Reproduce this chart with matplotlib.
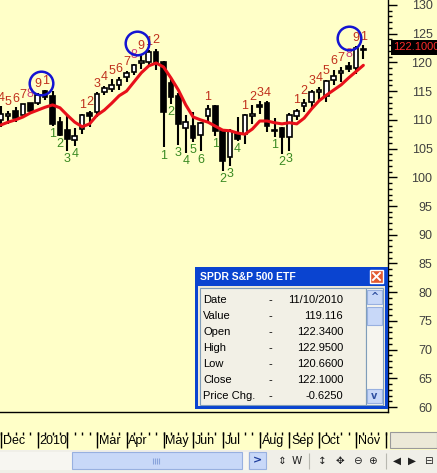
import numpy as np
import matplotlib
matplotlib.use('Agg')
import matplotlib.pyplot as plt
from matplotlib.patches import Rectangle
from matplotlib.ticker import MultipleLocator

W, H = 437, 473
BG = '#ffffc8'
FONT = 'Liberation Sans'

# weekly SPY bars (week ending Fri), Dec 4 2009 .. Nov 12 2010
opens = [109.9, 110.6, 111.5, 110.9, 112.9, 113.0, 115.0, 114.2, 109.6, 108.2,
         106.5, 108.4, 111.2, 111.3, 114.9, 115.4, 116.0, 117.4, 118.3, 119.9,
         120.0, 121.8, 120.0, 116.5, 114.2, 108.6, 108.9, 107.4, 110.6, 112.4,
         108.0, 103.6, 107.6, 107.6, 110.7, 112.6, 113.0, 108.3, 108.5, 107.0,
         110.6, 112.4, 113.1, 114.9, 114.2, 117.0, 118.1, 119.4, 119.0, 122.34]
highs = [112.4, 111.6, 112.2, 112.8, 113.0, 114.7, 115.2, 115.1, 110.5, 111.1,
         108.5, 111.1, 111.6, 114.8, 115.9, 117.1, 117.4, 118.5, 119.8, 121.3,
         122.1, 122.4, 120.3, 117.2, 114.6, 110.9, 111.4, 109.6, 112.5, 112.6,
         108.4, 108.4, 110.5, 111.0, 112.5, 113.2, 113.2, 110.4, 108.7, 111.2,
         111.9, 113.6, 115.2, 115.8, 117.0, 118.7, 119.2, 120.0, 122.8, 122.95]
lows = [108.8, 109.2, 109.6, 110.6, 111.4, 112.5, 113.5, 108.9, 107.2, 104.6,
        105.4, 107.6, 108.7, 110.5, 114.3, 114.9, 115.2, 116.6, 117.8, 118.9,
        119.2, 118.6, 105.2, 112.8, 105.6, 104.3, 106.2, 104.5, 109.6, 107.2,
        101.1, 102.0, 106.4, 105.8, 109.3, 111.1, 107.8, 107.1, 104.0, 104.6,
        110.0, 111.4, 112.0, 113.2, 113.1, 116.1, 116.6, 118.4, 117.9, 120.66]
closes = [111.0, 111.0, 110.3, 112.7, 111.6, 114.4, 114.0, 109.2, 107.4, 106.7,
          107.2, 110.9, 110.6, 114.5, 115.6, 116.1, 116.9, 118.2, 119.6, 120.3,
          121.8, 119.9, 111.4, 114.0, 109.3, 109.6, 106.9, 109.4, 111.9, 108.1,
          102.8, 108.0, 106.6, 110.8, 111.1, 112.3, 109.0, 108.1, 107.0, 110.9,
          111.6, 112.9, 114.8, 115.2, 116.8, 117.7, 118.5, 118.9, 122.5, 122.10]
# red moving average line
ma = [109.1, 109.6, 110.0, 110.5, 111.2, 111.7, 112.2, 112.6, 112.1, 110.8,
      109.6, 108.8, 109.3, 110.8, 111.7, 112.9, 114.2, 115.0, 116.6, 118.2,
      119.4, 119.9, 119.2, 117.3, 115.2, 112.6, 110.5, 110.0, 109.6, 108.9,
      108.2, 108.1, 107.7, 107.5, 108.4, 109.8, 109.8, 109.5, 109.3, 109.5,
      109.3, 110.3, 111.9, 113.3, 114.3, 115.2, 116.1, 117.3, 118.4, 119.5]

# TD setup counts: week index -> text
sell_idx = [0, 1, 2, 3, 4, 5, 6, 11, 12, 13, 14, 15, 16, 17, 18, 19, 20, 21,
            28, 33, 34, 35, 36, 40, 41, 42, 43, 44, 45, 46, 47, 48, 49]
sell_txt = ['4', '5', '6', '7', '8', '9', '1', '1', '2', '3', '4', '5', '6', '7', '8', '9', '1', '2',
            '1', '1', '2', '3', '4', '1', '2', '3', '4', '5', '6', '7', '8', '9', '1']
buy_idx = [7, 8, 9, 10, 22, 23, 24, 25, 26, 27, 29, 30, 31, 32, 37, 38, 39]
buy_txt = ['1', '2', '3', '4', '1', '2', '3', '4', '5', '6', '1', '2', '3', '4', '1', '2', '3']
# completed 9 counts (circled)
nine_x = [5.45, 18.4, 47.1]
nine_y = [116.5, 123.4, 124.3]

month_idx = [0, 5, 9, 13, 17, 22, 26, 30, 35, 39, 43, 48, 52]
month_lbl = ['Dec', '2010', '', 'Mar', 'Apr', 'May', 'Jun', 'Jul', 'Aug', 'Sep', 'Oct', 'Nov', '']

rows = ['Date', 'Value', 'Open', 'High', 'Low', 'Close', 'Price Chg.']
row_vals = ['11/10/2010', '119.116', '122.3400', '122.9500', '120.6600', '122.1000', '-0.6250']

fig = plt.figure(figsize=(W / 100, H / 100), dpi=100)
fig.patch.set_facecolor(BG)


def px_axes(x0, y0, x1, y1):
    return fig.add_axes([x0 / W, 1 - y1 / H, (x1 - x0) / W, (y1 - y0) / H])


XLIM = (-0.1, 52.33)

# ---- main price pane ----
ax = px_axes(0, 0, 388, 412)
ax.set_facecolor(BG)
x = np.arange(len(closes))
o = np.array(opens); c = np.array(closes)
ax.vlines(x, lows, highs, color='black', lw=1.5, zorder=3)
lo = np.minimum(o, c)
hgt = np.maximum(np.abs(c - o), 0.18)
cols = ['white' if cc >= oo else 'black' for oo, cc in zip(o, c)]
ax.bar(x, hgt, bottom=lo, width=0.62, color=cols, edgecolor='black', lw=1.2, zorder=4)
ax.plot(x, ma, color='#e8101a', lw=2.2, zorder=5, solid_capstyle='round')

for i, t in zip(sell_idx, sell_txt):
    col = '#d04075' if t == '8' else '#c0301c'
    ax.annotate(t, (i, highs[i]), xytext=(0, 4), textcoords='offset points',
                ha='center', va='baseline', fontsize=9, color=col, family=FONT, zorder=6)
for i, t in zip(buy_idx, buy_txt):
    ax.annotate(t, (i, lows[i]), xytext=(0, -1.5), textcoords='offset points',
                ha='center', va='top', fontsize=9, color='#3a8a22', family=FONT, zorder=6)
ax.plot(nine_x, nine_y, 'o', ms=17, mfc='none', mec='#1414d2', mew=1.8, zorder=7)

ax.set_xlim(*XLIM)
ax.set_ylim(59.13, 130.87)
ax.yaxis.tick_right()
ax.set_yticks(np.arange(60, 131, 5))
ax.yaxis.set_minor_locator(MultipleLocator(1))
ax.set_xticks([])
ax.tick_params(axis='y', which='major', length=6.5, width=1, pad=25.5,
               labelsize=9, labelcolor='#404040')
ax.tick_params(axis='y', which='minor', length=3, width=1)
for lbl in ax.get_yticklabels():
    lbl.set_horizontalalignment('right')
    lbl.set_family(FONT)
for s in ['top', 'left']:
    ax.spines[s].set_visible(False)
ax.spines['right'].set_linewidth(1)
ax.spines['bottom'].set_linewidth(1)

# ---- date strip ----
dx = px_axes(0, 430, 388, 449)
dx.set_facecolor(BG)
dx.set_xlim(*XLIM)
dx.set_ylim(19, 0)
dx.axis('off')
dx.vlines(np.arange(0, 53), 2, 5, color='black', lw=1)
dx.vlines(month_idx, 2, 18, color='black', lw=1)
for i, t in zip(month_idx, month_lbl):
    dx.text(i + 0.25, 11, t, ha='left', va='center', fontsize=9, family=FONT)

# ---- overlays in pixel coords ----
ov = fig.add_axes([0, 0, 1, 1])
ov.set_xlim(0, W)
ov.set_ylim(H, 0)
ov.axis('off')


def rect(x0, y0, w, h, fc, ec='none', lw=0):
    ov.add_patch(Rectangle((x0, y0), w, h, facecolor=fc, edgecolor=ec, lw=lw))


# last price box
rect(391, 40, 46, 15, 'black')
ov.text(393, 47.5, '122.1000', color='#ff2a2a', fontsize=8, family=FONT, va='center', ha='left')

# grey input box next to the dates
rect(390, 432, 47, 16, '#ece9d8', '#9a9a9a', 0.8)

# toolbar
rect(0, 450, W, 23, '#f0efe8')
rect(0, 452, 248, 18, '#f7f6f1')
rect(72, 452, 170, 17, '#c8d8f8', '#98b0e0', 0.8)
ov.vlines([153, 155, 157, 159], 458, 464, color='#8aa4dc', lw=0.8)
rect(249, 452, 17, 17, '#c8d8f8', '#98b0e0', 0.8)
ov.text(257.5, 460.5, '>', color='#1c3c9c', fontsize=8, weight='bold', ha='center', va='center')
icons = ['⇕', 'W', '↕', '✥', '⊖', '⊕', '◀', '▶', '⊟']
icon_x = [282, 297, 322, 340, 357, 372, 397, 412, 428]
for t, xx in zip(icons, icon_x):
    ov.text(xx, 461, t, fontsize=7.5, ha='center', va='center', color='#202020')
ov.vlines([309, 386], 453, 469, color='#b8b8b0', lw=0.8)

# data window
rect(195, 267, 193, 142, '#0a44d0')
rect(198, 286, 187, 120, '#ece9d8')
ov.text(200, 276.5, 'SPDR S&P 500 ETF', color='white', fontsize=7.5, weight='bold',
        family=FONT, va='center', ha='left')
rect(370, 270, 13, 13, '#e2582e', 'white', 1)
ov.plot([373, 380], [273, 280], color='white', lw=1.4)
ov.plot([373, 380], [280, 273], color='white', lw=1.4)
rect(200, 288, 166, 117, '#f2f0e6', '#7f9db9', 0.8)
rect(366, 288, 17, 117, '#f6f5ef', '#7f9db9', 0.8)
rect(367, 290, 15, 14, '#c8d8f8', '#98b0e0', 0.8)
rect(367, 307, 15, 18, '#c8d8f8', '#98b0e0', 0.8)
rect(367, 389, 15, 14, '#c8d8f8', '#98b0e0', 0.8)
ov.text(374.5, 297, '^', fontsize=7, ha='center', va='center', color='#3050a0', weight='bold')
ov.text(374.5, 395.5, 'v', fontsize=7, ha='center', va='center', color='#3050a0', weight='bold')
for k, (lab, val) in enumerate(zip(rows, row_vals)):
    yy = 300 + k * 16
    ov.text(203, yy, lab, fontsize=8, family=FONT, va='center', ha='left')
    ov.text(270, yy, '-', fontsize=8, family=FONT, va='center', ha='center')
    ov.text(343, yy, val, fontsize=8, family=FONT, va='center', ha='right')

fig.savefig('out.png', dpi=100, facecolor=BG)
